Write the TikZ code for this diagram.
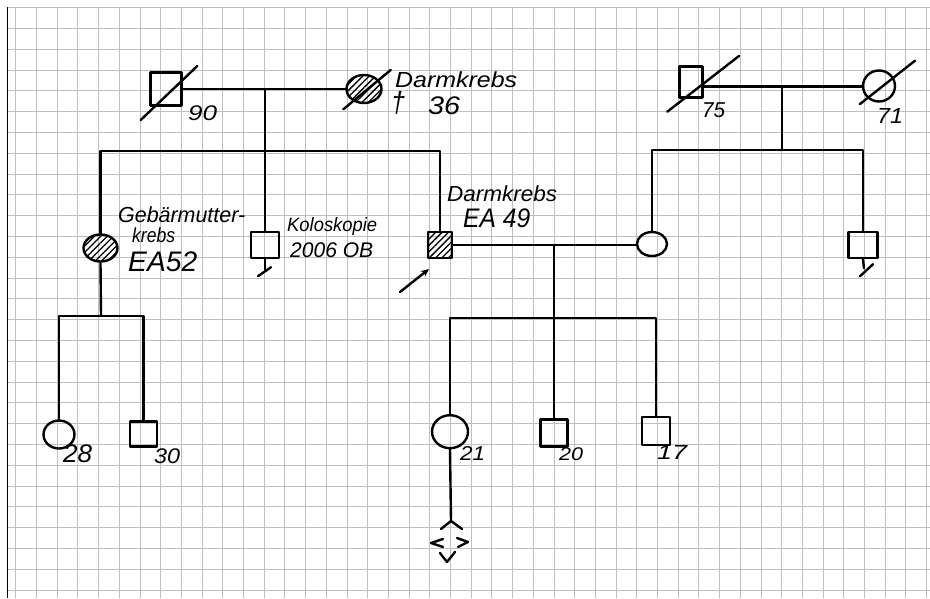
\documentclass[tikz,border=0pt]{standalone}
\usepackage{fontspec}
\setmainfont{Liberation Sans}
\usetikzlibrary{shapes.geometric,patterns.meta,arrows.meta,calc}
\newcommand{\hw}[3]{\resizebox*{#1pt}{#2pt}{\itshape #3}}
\tikzset{
  ink/.style={line width=2.4pt, black, line cap=round, line join=round},
  sq/.style={ink, draw, rectangle, inner sep=0pt},
  el/.style={ink, draw, ellipse, inner sep=0pt},
  hatch/.style={pattern={Lines[angle=45,distance=4.5pt,line width=1.3pt]}},
  gridline/.style={line width=0.8pt, gray!50},
  lbl/.style={inner sep=0pt, anchor=north west},
}
\begin{document}
\begin{tikzpicture}[x=1pt,y=-1pt]
\useasboundingbox (0,0) rectangle (930,598);
\fill[white] (0,0) rectangle (930,598);
% graph paper
\foreach \i in {0,...,44} {\draw[gridline] ({15.7+20.7*\i},7.5) -- ({15.7+20.7*\i},598);}
\foreach \j in {0,...,28} {\draw[gridline] (7.3,{7.5+20.8*\j}) -- (930,{7.5+20.8*\j});}
\draw[line width=1.4pt, black] (7.3,7) -- (7.3,598);

% individuals
\node[sq, minimum width=31pt, minimum height=33pt] (gf1) at (166,89) {};
\node[el, hatch, minimum width=35pt, minimum height=28pt] (gm1) at (364,89) {};
\node[sq, minimum width=23pt, minimum height=31pt] (gf2) at (691,82) {};
\node[el, minimum width=32pt, minimum height=31pt] (gm2) at (879,86) {};
\node[el, hatch, minimum width=34pt, minimum height=27pt] (aunt) at (100.5,248) {};
\node[sq, minimum width=28pt, minimum height=26pt] (unc1) at (265,245) {};
\node[sq, hatch, minimum width=24pt, minimum height=26pt] (prob) at (440,245) {};
\node[el, minimum width=30pt, minimum height=24pt] (wife) at (652,244) {};
\node[sq, minimum width=29pt, minimum height=26pt] (unc2) at (863,245) {};
\node[el, minimum width=31pt, minimum height=28pt] (c28) at (59,434.5) {};
\node[sq, minimum width=27pt, minimum height=25pt] (c30) at (143.5,434) {};
\node[el, minimum width=36pt, minimum height=33pt] (c21) at (450,431.7) {};
\node[sq, minimum width=27pt, minimum height=27pt] (c20) at (554,433) {};
\node[sq, minimum width=28pt, minimum height=28pt] (c17) at (656,431) {};

% helper coordinates
\coordinate (m1) at (265,89);
\coordinate (s1) at (265,151);
\coordinate (m2) at (782,86.5);
\coordinate (s2) at (782,150);
\coordinate (m3) at (554,245);
\coordinate (s3) at (554,318);
\coordinate (s4) at (101,316);
\coordinate (pg) at (451,521);
\coordinate (arr) at (400,292);

% deceased slashes
\draw[ink] ([shift={(-25.3,31)}]gf1.center) -- ([shift={(31.3,-23)}]gf1.center);
\draw[ink] ([shift={(-20.7,20.3)}]gm1.center) -- ([shift={(26.7,-19)}]gm1.center);
\draw[ink] ([shift={(-23.7,29.7)}]gf2.center) -- ([shift={(48,-26)}]gf2.center);
\draw[ink] ([shift={(-19,18)}]gm2.center) -- ([shift={(36,-25.3)}]gm2.center);

% connectors
\draw[ink] (gf1.east) -- (gm1.west);
\draw[ink] (m1) -- (s1);
\draw[ink] (aunt.north) |- (s1) -| (prob.north);
\draw[ink] (s1) -- (unc1.north);
\draw[ink] (gf2.east |- m2) -- (gm2.west |- m2);
\draw[ink] (m2) -- (s2);
\draw[ink] (wife.north) |- (s2) -| (unc2.north);
\draw[ink] (prob.east) -- (wife.west |- prob.east);
\draw[ink] (m3) -- (s3);
\draw[ink] (c21.north) |- (s3) -| (c17.north);
\draw[ink] (s3) -- (c20.north);
\draw[ink] (aunt.south) -- (s4);
\draw[ink] (c28.north) |- (s4) -| (c30.north);
\draw[ink] (c21.south) -- (pg);

% no offspring marks
\draw[ink] (unc1.south) -- ++(0,10);
\draw[ink] ([shift={(-7,17)}]unc1.south) -- ([shift={(6,8)}]unc1.south);
\draw[ink] (unc2.south) -- ++(1,9);
\draw[ink] ([shift={(-3,17)}]unc2.south) -- ([shift={(10,5)}]unc2.south);

% pregnancy (open diamond in strokes)
\draw[ink] ([shift={(-10,8)}]pg) -- (pg) -- ([shift={(11,8)}]pg);
\draw[ink] ([shift={(-8,18)}]pg) -- ([shift={(-20,22)}]pg) -- ([shift={(-8,26)}]pg);
\draw[ink] ([shift={(6,17)}]pg) -- ([shift={(17,21)}]pg) -- ([shift={(7,26)}]pg);
\draw[ink] ([shift={(-11,32)}]pg) -- ([shift={(-4,41)}]pg) -- ([shift={(4,31)}]pg);

% proband arrow
\draw[ink, -{Stealth[length=8pt,width=7pt]}] (arr) -- ([shift={(-11,24)}]prob.center);

% labels
\node[lbl] (t1) at (395,72) {\hw{122}{16}{Darmkrebs}};
\node[lbl, anchor=south west] (t2a) at (391,115) {\hw{14}{23}{†}};
\node[lbl, anchor=south west] (t2b) at (428,115) {\hw{32}{18}{36}};
\node[lbl] (t3) at (188,105) {\hw{29}{15}{90}};
\node[lbl] (t4) at (702,103) {\hw{23}{15}{75}};
\node[lbl] (t5) at (877,108) {\hw{26}{15}{71}};
\node[lbl] (t6) at (118,207) {\hw{127}{16}{Gebärmutter-}};
\node[lbl] (t7) at (132,227) {\hw{43}{15}{krebs}};
\node[lbl] (t8) at (128,252) {\hw{69}{20}{EA52}};
\node[lbl] (t9) at (287,217) {\hw{90}{18}{Koloskopie}};
\node[lbl] (t10) at (290,242) {\hw{83}{15}{2006 OB}};
\node[lbl] (t11) at (447,186) {\hw{110}{16}{Darmkrebs}};
\node[lbl] (t12) at (463,209) {\hw{67}{19}{EA 49}};
\node[lbl] (t13) at (63,445) {\hw{29}{18}{28}};
\node[lbl] (t14) at (154,448) {\hw{26}{15}{30}};
\node[lbl] (t15) at (460,446) {\hw{25}{14}{21}};
\node[lbl] (t16) at (559,447) {\hw{24}{13}{20}};
\node[lbl] (t17) at (657,445) {\hw{30}{14}{17}};
\end{tikzpicture}
\end{document}
